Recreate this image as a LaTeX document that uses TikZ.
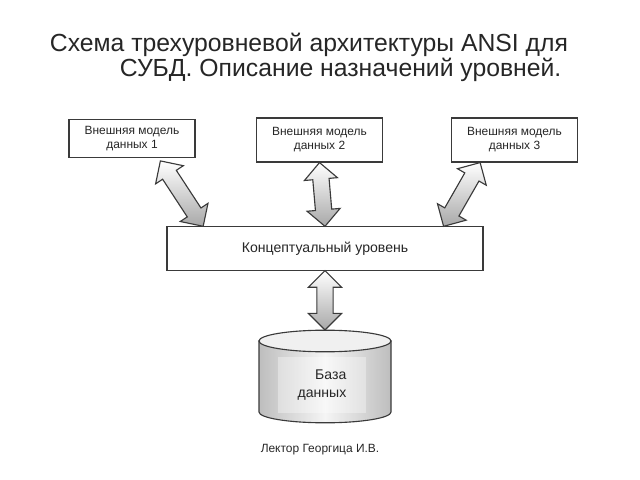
\documentclass[tikz,border=0pt]{standalone}
\usepackage{fontspec}
\setmainfont{Liberation Sans}
\usetikzlibrary{positioning,calc,shapes.arrows}
\definecolor{SlideText}{HTML}{262626}
\definecolor{SlideLine}{HTML}{3A3A3A}
\definecolor{ArrowGray}{HTML}{A8A8A8}

\begin{document}
\begin{tikzpicture}[
    x=0.025cm, y=-0.025cm,
    box/.style={draw=SlideLine, fill=white, line width=0.8pt, minimum width=3.15cm,
      align=center, text=SlideText, font=\fontsize{8.5}{10}\selectfont},
    extbox/.style={box, minimum height=1.1cm},
    dblarrow/.style={double arrow, draw=SlideLine, line width=0.8pt, inner xsep=0pt,
      inner ysep=0.19cm, double arrow head extend=0.21cm, double arrow tip angle=90,
      top color=white, bottom color=ArrowGray}
  ]
    \useasboundingbox (0,0) rectangle (640,480);
    % title
    \node[anchor=west, text=SlideText, font=\fontsize{17.6}{20}\selectfont] (title1) at (45,45)
      {Схема трехуровневой архитектуры ANSI для};
    \node[anchor=west, text=SlideText, font=\fontsize{17.6}{20}\selectfont] (title2) at (115,70)
      {СУБД. Описание назначений уровней.};
    % external models
    \node[box, minimum height=0.93cm] (ext1) at (132,138.5) {Внешняя модель\\данных 1};
    \node[extbox] (ext2) at (319.5,140) {Внешняя модель\\данных 2};
    \node[extbox] (ext3) at (514.5,140) {Внешняя модель\\данных 3};
    % conceptual level
    \node[box, minimum width=7.9cm, minimum height=1.08cm, font=\fontsize{10}{12}\selectfont]
      (concept) at (325,248.5) {Концептуальный уровень};
    % database cylinder
    \path[draw=SlideLine, line width=0.8pt, left color=ArrowGray!75, right color=ArrowGray!75,
      middle color=gray!8] (259,341) -- (259,412)
      arc[start angle=180, end angle=360, x radius=1.65cm, y radius=0.27cm] -- (391,341) -- cycle;
    \draw[SlideLine, line width=0.8pt, fill=gray!12] (325,341) ellipse[x radius=1.65cm, y radius=0.27cm];
    \coordinate (dbtop) at (325,330);
    \node[align=right, text=SlideText, font=\fontsize{10}{13}\selectfont, fill=white,
      fill opacity=0.35, text opacity=1, inner xsep=14pt, inner ysep=9pt] (db) at (322,385) {База\\данных};
    \node[text=SlideText, font=\fontsize{8.5}{10}\selectfont] (lector) at (320,450)
      {Лектор Георгица И.В.};
    % arrow ends
    \coordinate (a1top) at ([xshift=-0.88cm,yshift=-0.08cm]ext1.south east);
    \coordinate (a1bot) at ([xshift=0.92cm]concept.north west);
    \coordinate (a3top) at ([xshift=0.73cm]ext3.south west);
    \coordinate (a3bot) at ([xshift=-1.0cm]concept.north east);
    \foreach \from/\to in {a1top/a1bot, ext2.south/concept.north, a3top/a3bot, concept.south/dbtop}
      \path let \p1=($(\to)-(\from)$), \n1={veclen(\x1,\y1)}, \n2={atan2(\y1,\x1)} in
        node[dblarrow, minimum height=\n1, rotate=\n2] at ($(\from)!0.5!(\to)$) {};
  \end{tikzpicture}
\end{document}
